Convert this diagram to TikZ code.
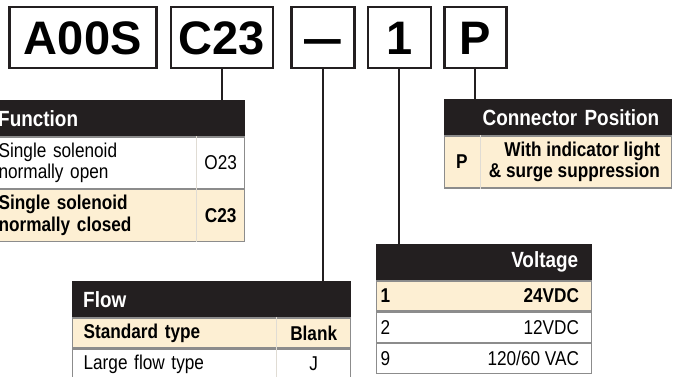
\documentclass[tikz,border=0pt]{standalone}
\usepackage{fontspec}
\usepackage{tikz}
\usetikzlibrary{positioning}
\newfontfamily\tabfont[FakeStretch=0.86]{Liberation Sans}
\newfontfamily\codefont{Liberation Sans}
\definecolor{partink}{HTML}{231F20}
\definecolor{parttan}{HTML}{FDEFD3}
\definecolor{partgray}{HTML}{8C8C8C}
\definecolor{partrule}{HTML}{E0DCD4}

\begin{document}
\begin{tikzpicture}[x=1pt, y=1pt,
    codebox/.style={draw=partink, line width=2.5pt, minimum height=61pt, inner sep=0pt, text height=33pt, text depth=0pt, font={\codefont\fontsize{47}{50}\selectfont\bfseries}},
    hdr/.style={fill=partink, draw=partink, text=white, minimum height=36pt, inner ysep=0pt, anchor=north west, font={\tabfont\fontsize{22}{24}\selectfont\bfseries}},
    row/.style={draw=partgray, line width=1.2pt, fill=white, inner ysep=0pt, anchor=north west, font={\tabfont\fontsize{20}{21.5}\selectfont}},
    rowb/.style={row, fill=parttan, font={\tabfont\fontsize{20}{21.5}\selectfont\bfseries}},
    val/.style={inner sep=0pt, font={\tabfont\fontsize{20}{21.5}\selectfont}},
    valb/.style={val, font={\tabfont\fontsize{20}{21.5}\selectfont\bfseries}},
    divider/.style={draw=partrule, line width=0.6pt},
    link/.style={draw=partink, line width=2pt},
  ]
    \useasboundingbox (0,0) rectangle (674,-377);
    \clip (0,0) rectangle (674,-377);

    % part number boxes
    \node[codebox, minimum width=147pt, anchor=north west] (series) at (8,-6) {A00S};
    \node[codebox, minimum width=102pt, right=12pt of series] (func) {C23};
    \node[codebox, minimum width=63pt, right=16pt of func] (flow) {\scalebox{0.78}[1]{—}};
    \node[codebox, minimum width=63pt, right=11pt of flow] (volt) {1};
    \node[codebox, minimum width=62pt, right=11pt of volt] (conn) {P};

    % function table
    \node[hdr, text width=235pt, inner xsep=11pt, align=left] (funchdr) at (-13,-100) {Function};
    \node[row, text width=235pt, inner xsep=11pt, align=left, minimum height=51.5pt] (funcA) at (funchdr.south west) {Single solenoid\\normally open};
    \node[rowb, text width=235pt, inner xsep=11pt, align=left, minimum height=51.5pt] (funcB) at (funcA.south west) {Single solenoid\\normally closed};
    \draw[divider] ([xshift=-49pt]funcA.north east) -- ([xshift=-49pt]funcB.south east);
    \node[val] (funcAval) at ([xshift=-24.5pt]funcA.east) {O23};
    \node[valb] (funcBval) at ([xshift=-24.5pt]funcB.east) {C23};

    % connector position table
    \node[hdr, text width=203pt, inner xsep=12pt, align=right] (connhdr) at (444,-99) {Connector Position};
    \node[rowb, text width=204pt, inner xsep=11.5pt, align=left, minimum height=52pt] (connA) at (connhdr.south west) {P};
    \draw[divider] ([xshift=-192pt]connA.north east) -- ([xshift=-192pt]connA.south east);
    \node[valb, anchor=east, align=right] (connAval) at ([xshift=-12pt]connA.east) {With indicator light\\\&~surge suppression};

    % voltage table
    \node[hdr, text width=189pt, inner xsep=13pt, align=right] (volthdr) at (376,-244) {Voltage};
    \node[rowb, text width=207pt, inner xsep=4pt, align=left, minimum height=30pt] (voltA) at (volthdr.south west) {1};
    \node[row, text width=207pt, inner xsep=4pt, align=left, minimum height=30pt] (voltB) at (voltA.south west) {2};
    \node[row, text width=207pt, inner xsep=4pt, align=left, minimum height=30pt] (voltC) at (voltB.south west) {9};
    \node[valb, anchor=east] (voltAval) at ([xshift=-13pt]voltA.east) {24VDC};
    \node[val, anchor=east] (voltBval) at ([xshift=-13pt]voltB.east) {12VDC};
    \node[val, anchor=east] (voltCval) at ([xshift=-13pt]voltC.east) {120/60 VAC};

    % flow table
    \node[hdr, text width=256pt, inner xsep=11pt, align=left] (flowhdr) at (72,-281) {Flow};
    \node[rowb, text width=256pt, inner xsep=11pt, align=left, minimum height=30pt] (flowA) at (flowhdr.south west) {Standard type};
    \node[row, text width=256pt, inner xsep=11pt, align=left, minimum height=30pt] (flowB) at (flowA.south west) {Large flow type};
    \draw[divider] ([xshift=-75pt]flowA.north east) -- ([xshift=-75pt]flowB.south east);
    \node[valb] (flowAval) at ([xshift=-37.5pt]flowA.east) {Blank};
    \node[val] (flowBval) at ([xshift=-37.5pt]flowB.east) {J};

    % leader lines
    \draw[link] (func.south) -- (func.south |- funchdr.north);
    \draw[link] (flow.south) -- (flow.south |- flowhdr.north);
    \draw[link] (volt.south) -- (volt.south |- volthdr.north);
    \draw[link] (conn.south) -- (conn.south |- connhdr.north);
  \end{tikzpicture}
\end{document}
